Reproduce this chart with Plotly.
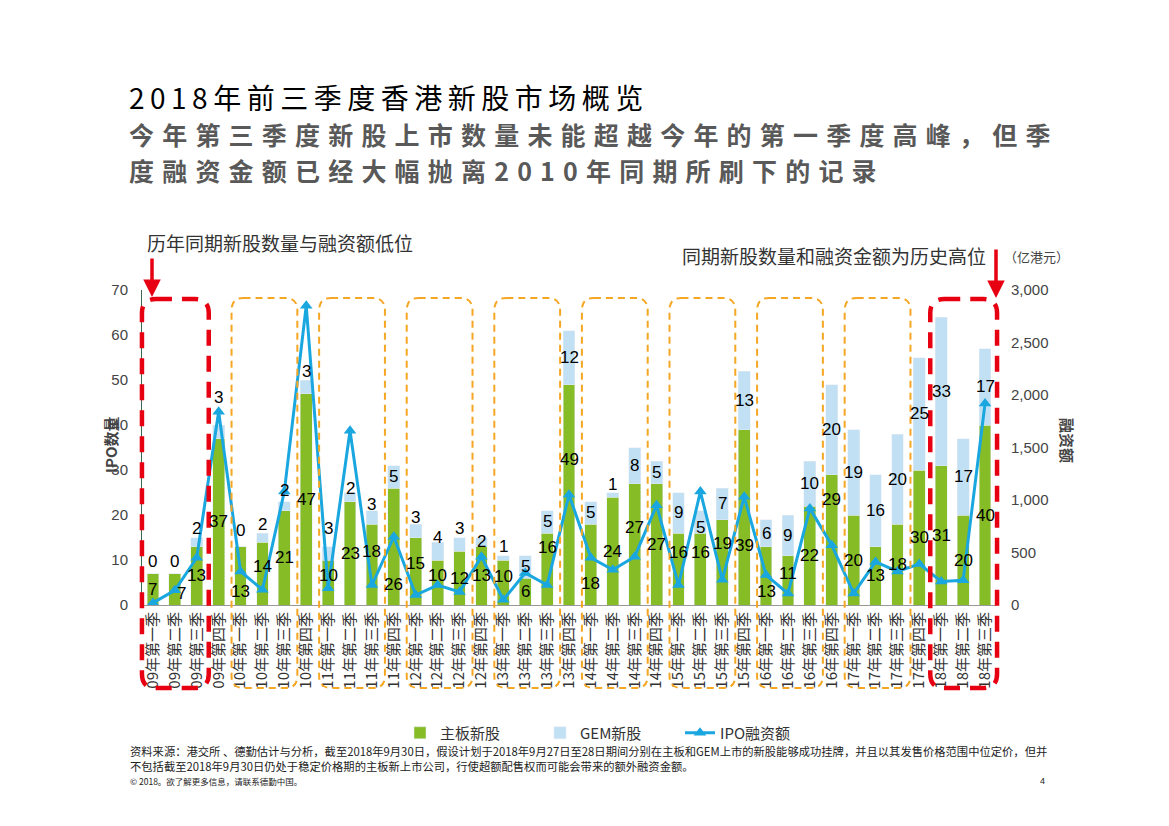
import plotly.graph_objects as go

# ---------------- data ----------------
categories = [
    "09年第一季", "09年第二季", "09年第三季", "09年第四季",
    "10年第一季", "10年第二季", "10年第三季", "10年第四季",
    "11年第一季", "11年第二季", "11年第三季", "11年第四季",
    "12年第一季", "12年第二季", "12年第三季", "12年第四季",
    "13年第一季", "13年第二季", "13年第三季", "13年第四季",
    "14年第一季", "14年第二季", "14年第三季", "14年第四季",
    "15年第一季", "15年第二季", "15年第三季", "15年第四季",
    "16年第一季", "16年第二季", "16年第三季", "16年第四季",
    "17年第一季", "17年第二季", "17年第三季", "17年第四季",
    "18年第一季", "18年第二季", "18年第三季",
]
main_board = [7, 7, 13, 37, 13, 14, 21, 47, 10, 23, 18, 26, 15, 10, 12, 13,
              10, 6, 16, 49, 18, 24, 27, 27, 16, 16, 19, 39, 13, 11, 22, 29,
              20, 13, 18, 30, 31, 20, 40]
gem_board = [0, 0, 2, 3, 0, 2, 2, 3, 3, 2, 3, 5, 3, 4, 3, 2,
             1, 5, 5, 12, 5, 1, 8, 5, 9, 5, 7, 13, 6, 9, 10, 20,
             19, 16, 20, 25, 33, 17, 17]
ipo_funds = [20, 140, 450, 1840, 320, 145, 1080, 2850, 160, 1660, 190, 650,
             95, 190, 125, 460, 50, 305, 190, 1050, 450, 335, 460, 950,
             190, 1080, 240, 1030, 285, 110, 920, 570, 110, 410, 320, 390,
             225, 235, 1920]
left_ticks = [0, 10, 20, 30, 40, 50, 60, 70]
right_ticks = [0, 500, 1000, 1500, 2000, 2500, 3000]

title_1 = "2018年前三季度香港新股市场概览"
title_2 = "今年第三季度新股上市数量未能超越今年的第一季度高峰，但季"
title_3 = "度融资金额已经大幅抛离2010年同期所刷下的记录"

# label nudges (pixels, positive = up) to keep labels clear of the line
green_dy = [0, -4, 0, 0, -16, 7, 0, 0, 7, 0, 13, -38, 8, 7, 0, 0,
            6, 0, 22, 35, -19, 0, 17, 0, 17, 17, 19, -28, -16, 7, 0, 40,
            0, 0, 0, 0, 0, 0, 0]
gem_dy = [3, 3, 0, 19, 7, 0, 2, 0, 9, -5, -3, 0, -2, -4, 0, -13,
          0, 0, 0, 0, 0, -1, 0, 0, 0, -6, 0, 0, 0, 0, 0, 0,
          0, 0, 0, 0, 0, 0, 0]

# ---------------- layout geometry (page pixels; the page body has an 8px margin) ----------------
OFF = 8
W, H = 1169 - OFF, 826 - OFF
L, R, T, B = 142, 996, 290, 605        # plot area in page pixels
N = len(categories)
xs = list(range(N))


def px(x):
    return (x - L) / (R - L)


def py(y):
    return (B - y) / (B - T)


def bar_px(i):
    return L + (i + 0.5) / N * (R - L)


FONT = "Liberation Sans, Arial, Noto Sans CJK SC, sans-serif"
CJK = "Noto Sans CJK SC, Liberation Sans, sans-serif"
GREEN = "#86BC25"
LBLUE = "#C2E0F3"
LINE = "#1AA7E0"
RED = "#E60012"
ORANGE = "#F5A623"

fig = go.Figure()
fig.add_trace(go.Bar(x=xs, y=main_board, name="主板新股", marker_color=GREEN,
                     width=0.54, hoverinfo="y"))
fig.add_trace(go.Bar(x=xs, y=gem_board, name="GEM新股", marker_color=LBLUE,
                     width=0.54, hoverinfo="y"))
fig.add_trace(go.Scatter(x=xs, y=ipo_funds, name="IPO融资额", yaxis="y2",
                         mode="lines+markers",
                         line=dict(color=LINE, width=3),
                         marker=dict(symbol="triangle-up", size=11, color=LINE)))

annotations = []
# data labels
for i in xs:
    m, g = main_board[i], gem_board[i]
    annotations.append(dict(x=i, y=m / 2, xref="x", yref="y", text=str(m),
                            showarrow=False, yshift=green_dy[i],
                            xshift=7 if i == 1 else 0,
                            font=dict(family=FONT, size=17, color="#000")))
    if g >= 5:
        gy, gs = m + g / 2, gem_dy[i]
    else:
        gy, gs = m + g, 9 + gem_dy[i]
    annotations.append(dict(x=i, y=gy, xref="x", yref="y", text=str(g),
                            showarrow=False, yshift=gs,
                            font=dict(family=FONT, size=17, color="#000")))

annotations += [
    dict(x=px(127), y=py(97), xref="paper", yref="paper", xanchor="left", yanchor="middle",
         text=title_1, showarrow=False, align="left",
         font=dict(family=CJK, size=28, color="#000")),
    dict(x=px(127), y=py(133.5), xref="paper", yref="paper", xanchor="left", yanchor="middle",
         text="<b>" + title_2 + "</b>", showarrow=False, align="left",
         font=dict(family=CJK, size=25, color="#595959")),
    dict(x=px(127), y=py(170), xref="paper", yref="paper", xanchor="left", yanchor="middle",
         text="<b>" + title_3 + "</b>", showarrow=False, align="left",
         font=dict(family=CJK, size=25, color="#595959")),
    dict(x=px(145), y=py(242), xref="paper", yref="paper", xanchor="left", yanchor="middle",
         text="历年同期新股数量与融资额低位", showarrow=False,
         font=dict(family=CJK, size=19, color="#333")),
    dict(x=px(988), y=py(255), xref="paper", yref="paper", xanchor="right", yanchor="middle",
         text="同期新股数量和融资金额为历史高位", showarrow=False,
         font=dict(family=CJK, size=19, color="#333")),
    dict(x=px(1002), y=py(257), xref="paper", yref="paper", xanchor="left", yanchor="middle",
         text="（亿港元）", showarrow=False,
         font=dict(family=CJK, size=13, color="#444")),
    dict(x=px(110), y=py(445), xref="paper", yref="paper", xanchor="center", yanchor="middle",
         text="<b>IPO数量</b>", textangle=-90, showarrow=False,
         font=dict(family=CJK, size=15, color="#444")),
    dict(x=px(1068), y=py(440), xref="paper", yref="paper", xanchor="center", yanchor="middle",
         text="<b>融资额</b>", textangle=90, showarrow=False,
         font=dict(family=CJK, size=15, color="#444")),
    # arrows
    dict(x=px(152), y=py(297), xref="paper", yref="paper", ax=0, ay=-40, text="",
         showarrow=True, arrowhead=2, arrowsize=1, arrowwidth=3.5, arrowcolor=RED),
    dict(x=px(996), y=py(298), xref="paper", yref="paper", ax=0, ay=-50, text="",
         showarrow=True, arrowhead=2, arrowsize=1, arrowwidth=3.5, arrowcolor=RED),
    # footnotes
    dict(x=px(128), y=py(751), xref="paper", yref="paper", xanchor="left", yanchor="middle",
         text="资料来源：港交所 、德勤估计与分析，截至2018年9月30日，假设计划于2018年9月27日至28日期间分别在主板和GEM上市的新股能够成功挂牌，并且以其发售价格范围中位定价，但并",
         showarrow=False, font=dict(family=CJK, size=11.3, color="#222")),
    dict(x=px(128), y=py(766), xref="paper", yref="paper", xanchor="left", yanchor="middle",
         text="不包括截至2018年9月30日仍处于稳定价格期的主板新上市公司，行使超额配售权而可能会带来的额外融资金额。",
         showarrow=False, font=dict(family=CJK, size=11.3, color="#222")),
    dict(x=px(128), y=py(781), xref="paper", yref="paper", xanchor="left", yanchor="middle",
         text="© 2018。欲了解更多信息，请联系德勤中国。",
         showarrow=False, font=dict(family=CJK, size=8.5, color="#222")),
    dict(x=px(1042), y=py(781), xref="paper", yref="paper", xanchor="center", yanchor="middle",
         text="4", showarrow=False, font=dict(family=FONT, size=9, color="#222")),
]


def rounded_box(x0, x1, ytop, ybot, r=12):
    a0, a1 = px(x0), px(x1)
    b1, b0 = py(ytop), py(ybot)
    rx, ry = r / (R - L), r / (B - T)
    return (f"M {a0+rx},{b1} L {a1-rx},{b1} Q {a1},{b1} {a1},{b1-ry} "
            f"L {a1},{b0+ry} Q {a1},{b0} {a1-rx},{b0} L {a0+rx},{b0} "
            f"Q {a0},{b0} {a0},{b0+ry} L {a0},{b1-ry} Q {a0},{b1} {a0+rx},{b1} Z")


shapes = []
for s, e in [(0, 2), (36, 38)]:
    shapes.append(dict(type="path", xref="paper", yref="paper",
                       path=rounded_box(bar_px(s) - 11, bar_px(e) + 12, 299, 688, 14),
                       line=dict(color=RED, width=4.5, dash="16px,10px")))
for s in [4, 8, 12, 16, 20, 24, 28, 32]:
    shapes.append(dict(type="path", xref="paper", yref="paper",
                       path=rounded_box(bar_px(s) - 9, bar_px(s + 2) + 13, 298, 688, 12),
                       line=dict(color=ORANGE, width=2, dash="7px,5px")))

fig.update_layout(
    width=W, height=H,
    margin=dict(l=L - OFF, r=W - (R - OFF), t=T - OFF, b=H - (B - OFF), autoexpand=False),
    paper_bgcolor="white", plot_bgcolor="white",
    barmode="stack", bargap=0.46,
    font=dict(family=FONT, color="#444"),
    showlegend=True,
    legend=dict(orientation="h", x=px(400), xanchor="left", y=py(733), yanchor="middle",
                font=dict(family=CJK, size=15, color="#333"), itemwidth=30,
                entrywidth=95, bgcolor="rgba(0,0,0,0)", traceorder="normal"),
    xaxis=dict(range=[-0.5, N - 0.5], tickmode="array", tickvals=xs, ticktext=categories,
               tickangle=-90, tickfont=dict(family=CJK, size=15, color="#333"),
               showline=True, linecolor="#999", linewidth=1, showgrid=False,
               ticks="", zeroline=False),
    yaxis=dict(range=[0, 70], tickmode="array", tickvals=left_ticks,
               tickfont=dict(family=FONT, size=15, color="#444"),
               showline=True, linecolor="#3f6650", linewidth=1, showgrid=False,
               zeroline=False, ticks="", ticklabelstandoff=10),
    yaxis2=dict(range=[0, 3000], overlaying="y", side="right", tickmode="array",
                tickvals=right_ticks, tickformat=",",
                tickfont=dict(family=FONT, size=15, color="#444"),
                showline=False, showgrid=False, zeroline=False, ticks="",
                ticklabelstandoff=14),
    annotations=annotations,
    shapes=shapes,
)

# the original slide sets its headline with wide character spacing
spacing_js = """
var sp = [["%s", "5.5px"], ["%s", "8.2px"], ["%s", "8.2px"]];
document.querySelectorAll('text.annotation-text').forEach(function (t) {
  sp.forEach(function (p) { if (t.textContent === p[0]) { t.style.letterSpacing = p[1]; } });
});
""" % (title_1, title_2, title_3)

fig.write_html("out.html", post_script=spacing_js)
